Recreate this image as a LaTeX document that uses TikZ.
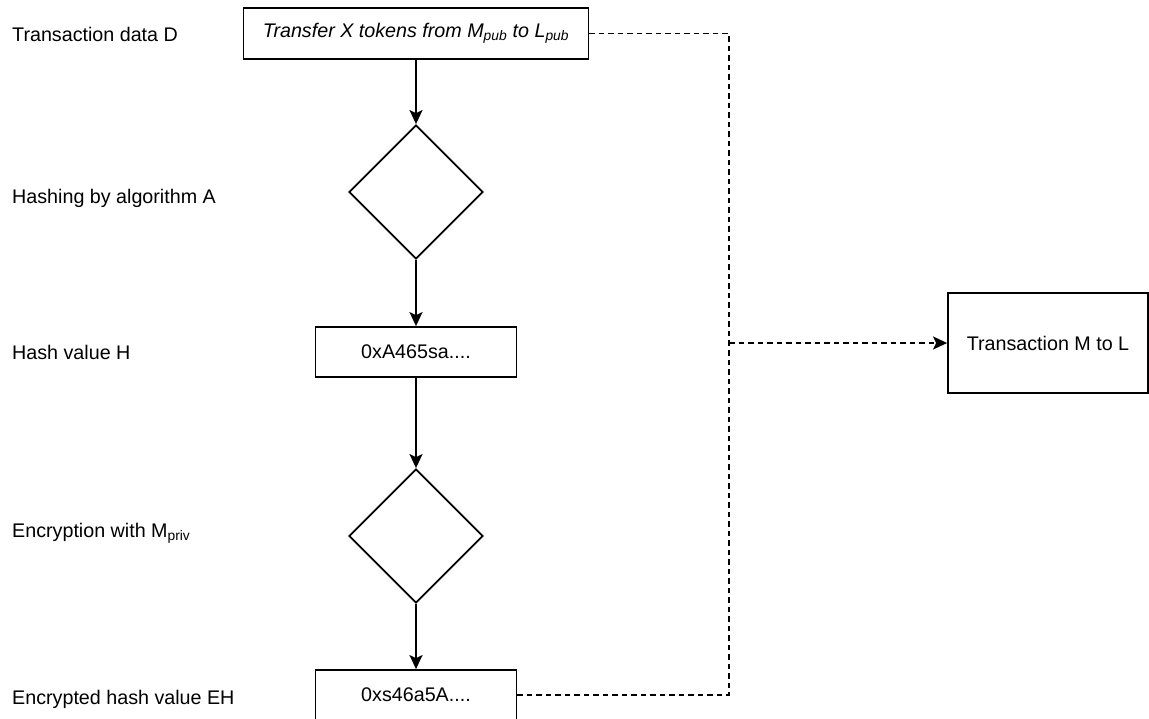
\documentclass[tikz,border=0pt]{standalone}
\usepackage{fontspec}
\setmainfont{Liberation Sans}
\usetikzlibrary{shapes.geometric,arrows.meta}
\begin{document}
\begin{tikzpicture}[x=1pt,y=-1pt,
  font=\fontsize{19.7}{23.6}\selectfont,
  box/.style={draw,line width=1.8pt,inner sep=0pt,minimum width=201pt,minimum height=50pt},
  rhomb/.style={draw,diamond,line width=1.8pt,inner sep=0pt,minimum width=134pt,minimum height=134pt},
  lbl/.style={anchor=base west,inner sep=0pt},
  flow/.style={line width=1.8pt,-{Stealth[length=14pt,width=13pt,inset=3pt]}},
  dashline/.style={line width=1.8pt,dash pattern=on 5.5pt off 4pt}]
  \useasboundingbox (0,0) rectangle (1149,718);

  % 左侧说明
  \node[lbl] (lData) at (12,41) {Transaction data D};
  \node[lbl] (lHashing) at (12,203) {Hashing by algorithm A};
  \node[lbl] (lHash) at (12,359) {Hash value H};
  \node[lbl] (lEncrypt) at (12,537) {Encryption with M\textsubscript{priv}};
  \node[lbl] (lEHash) at (12,704) {Encrypted hash value EH};

  % 流程节点
  \node[box,minimum width=345pt,minimum height=51pt] (data) at (416,33.5)
    {\itshape Transfer X tokens from M\textsubscript{pub} to L\textsubscript{pub}};
  \node[rhomb] (hashing) at (416,192) {};
  \node[box] (hash) at (416,352) {0xA465sa....};
  \node[rhomb] (encrypt) at (416,536) {};
  \node[box] (ehash) at (416,695) {0xs46a5A....};
  \node[box,minimum width=200pt,minimum height=100pt] (tx) at (1048,343) {Transaction M to L};
  \coordinate (join) at (729,343);

  % 箭头
  \draw[flow] (data) -- (hashing);
  \draw[flow] (hashing) -- (hash);
  \draw[flow] (hash) -- (encrypt);
  \draw[flow] (encrypt) -- (ehash);

  % 虚线汇合
  \draw[dashline] (data.east) -| (join);
  \draw[dashline] (ehash.east) -| (join);
  \draw[dashline,-{Stealth[length=14pt,width=13pt,inset=3pt]}] (join) -- (tx.west);
\end{tikzpicture}
\end{document}
